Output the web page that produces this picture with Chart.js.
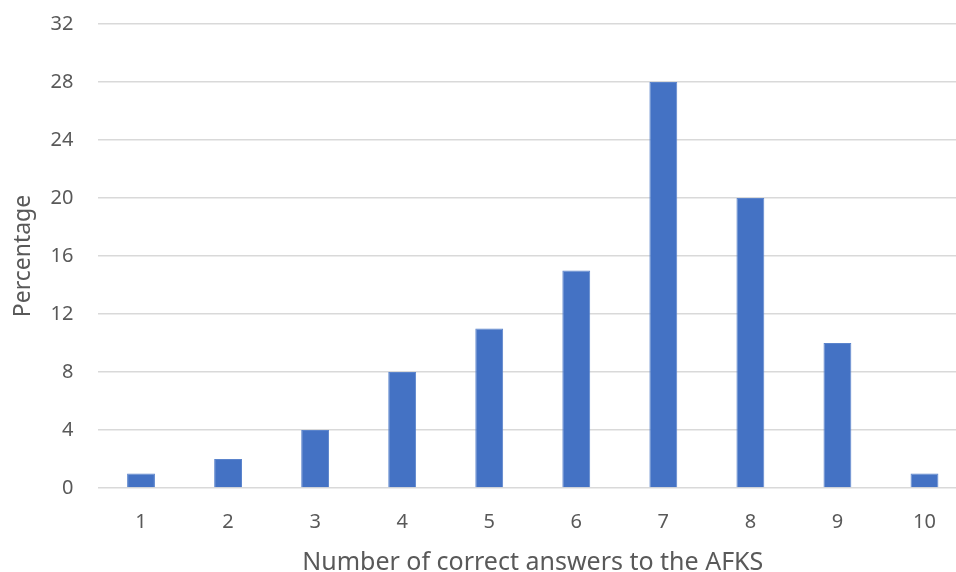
<!DOCTYPE html>
<html>
<head>
<meta charset="utf-8">
<script src="https://cdn.jsdelivr.net/npm/chart.js@4/dist/chart.umd.min.js"></script>
<style>
  html, body { margin: 0; padding: 0; background: #fff; overflow: hidden; }
  #wrap { position: relative; width: 972px; height: 572px; }
</style>
</head>
<body>
<div id="wrap"><canvas id="chart"></canvas></div>
<script>
var categories = ["1", "2", "3", "4", "5", "6", "7", "8", "9", "10"];
var percentages = [1, 2, 4, 8, 11, 15, 28, 20, 10, 1];
var yTicks = [0, 4, 8, 12, 16, 20, 24, 28, 32];

var font = "'Noto Sans', 'Open Sans', sans-serif";
var grey = "#595959";

new Chart(document.getElementById("chart"), {
  type: "bar",
  data: {
    labels: categories,
    datasets: [{
      data: percentages,
      backgroundColor: "#4472C4",
      borderColor: "#5b84cc",
      borderWidth: 1,
      barPercentage: 0.32,
      categoryPercentage: 1
    }]
  },
  options: {
    responsive: true,
    maintainAspectRatio: false,
    animation: false,
    layout: { padding: { top: 24, left: 6, right: 4, bottom: 0 } },
    plugins: { legend: { display: false }, tooltip: { enabled: false } },
    scales: {
      x: {
        grid: { display: false },
        border: { display: false },
        ticks: { color: grey, font: { family: font, size: 20 }, padding: 14 },
        title: {
          display: true,
          text: "Number of correct answers to the AFKS",
          color: grey,
          font: { family: font, size: 25 },
          padding: { top: 4, bottom: -6 }
        },
        afterFit: function (s) { s.height = 84; }
      },
      y: {
        min: 0,
        max: 32,
        afterBuildTicks: function (s) { s.ticks = yTicks.map(function (v) { return { value: v }; }); },
        grid: { color: "#d9d9d9", lineWidth: 1.5, drawTicks: false },
        border: { display: false },
        ticks: { color: grey, font: { family: font, size: 20 }, padding: 24 },
        title: {
          display: true,
          text: "Percentage",
          color: grey,
          font: { family: font, size: 23 },
          padding: { bottom: 4 }
        },
        afterFit: function (s) {
          s.width = 91.5;
          // tick padding should not push the plot area down
          s.paddingTop = 12;
          s.paddingBottom = 12;
        }
      }
    }
  }
});
</script>
</body>
</html>
